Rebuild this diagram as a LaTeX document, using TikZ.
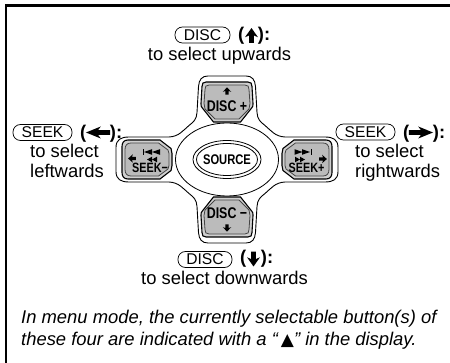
\documentclass[tikz,border=0pt]{standalone}
\usepackage{fontspec}
\setmainfont{Liberation Sans}
\newfontfamily\symfont{DejaVu Sans}
\newcommand{\bigarr}[5]{\fill[shift={(#1,#2)},rotate=#3,xscale=#4,yscale=#5] (-6.5,-1.9) -- (0,-1.9) -- (-1.5,-5) -- (6.5,0) -- (-1.5,5) -- (0,1.9) -- (-6.5,1.9) -- cycle;}
\newcommand{\tri}[3]{\fill (#1,#2) -- ++(#3,-2.8) -- ++(0,5.6) -- cycle;}
\newcommand{\vbtnpath}[1]{(-21+#1,-77.5+#1) .. controls (-24+#1,-77.5+#1) and (-25+#1,-76+#1) .. (-25+#1,-73+#1) -- (-26+#1,-56) .. controls (-26+#1,-54) and (-26+#1,-53) .. (-25+#1,-52+.5*#1) -- (-13.5+#1*.5,-37.5-#1) -- (13.5-#1*.5,-37.5-#1) -- (25-#1,-52+.5*#1) .. controls (26-#1,-53) and (26-#1,-54) .. (26-#1,-56) -- (25-#1,-73+#1) .. controls (25-#1,-76+#1) and (24-#1,-77.5+#1) .. (21-#1,-77.5+#1) -- cycle}
\newcommand{\hbtnpath}[1]{(-99+#1,-19.5+#1) .. controls (-103+#1,-19.5+#1) and (-105+#1,-17+#1) .. (-105+#1,-13+#1) -- (-105+#1,13-#1) .. controls (-105+#1,17-#1) and (-103+#1,19.5-#1) .. (-99+#1,19.5-#1) -- (-67-#1*.5,19.5-#1) -- (-56-#1,11-.5*#1) -- (-55-#1,6) -- (-55-#1,-6) -- (-56-#1,-11+.5*#1) -- (-67-#1*.5,-19.5+#1) -- cycle}
\newcommand{\vbtn}{\fill[btnlight,draw=black,line width=1.1pt] \vbtnpath{0}; \fill[btngray,draw=btndark,line width=.8pt] \vbtnpath{3};}
\newcommand{\hbtn}{\fill[btnlight,draw=black,line width=1.1pt] \hbtnpath{0}; \fill[btngray,draw=btndark,line width=.8pt] \hbtnpath{3};}
\definecolor{btnlight}{HTML}{CFCFCF}
\definecolor{btngray}{HTML}{BBBBBB}
\definecolor{btndark}{HTML}{444444}
\tikzset{
  x=1pt,y=-1pt,
  keybox/.style={draw,line width=.7pt,rounded corners=7.5pt,minimum height=16pt,inner sep=0pt,font=\fontsize{15.6}{17}\selectfont},
  lab/.style={anchor=base,inner sep=0pt,font=\fontsize{18.4}{19}\selectfont},
  lablft/.style={anchor=base west,inner sep=0pt,font=\fontsize{18.4}{19}\selectfont},
  blab/.style={anchor=base west,inner sep=0pt,font=\fontsize{18.4}{19}\selectfont\bfseries},
  note/.style={anchor=base west,inner sep=0pt,font=\fontsize{18.4}{19}\selectfont\itshape},
  btext/.style={anchor=base,inner sep=0pt,font=\fontsize{15.5}{16}\selectfont\bfseries},
  stext/.style={anchor=base,inner sep=0pt,font=\fontsize{13.5}{14}\selectfont\bfseries},
}
\begin{document}
\begin{tikzpicture}
\useasboundingbox (0,0) rectangle (450,363);
\fill[white] (0,0) rectangle (450,363);
% frame
\fill[black] (5,4) rectangle (450,7);
\fill[black] (5,4) rectangle (7,363);
% body outline
\begin{scope}[shift={(227,159.5)}]
\draw[line width=.9pt,fill=white] (-19,-83.5) .. controls (-25,-83.5) and (-28,-80) .. (-28.5,-73) -- (-30,-47) .. controls (-30.5,-40) and (-33,-38) .. (-38,-34) .. controls (-44,-29) and (-48,-23) .. (-58,-22.5) -- (-98,-22.5) .. controls (-106,-22.5) and (-111,-20) .. (-111,-12) -- (-111,12) .. controls (-111,20) and (-106,22.5) .. (-98,22.5) -- (-58,22.5) .. controls (-48,23) and (-44,29) .. (-38,34) .. controls (-33,38) and (-30.5,40) .. (-30,47) -- (-28.5,73) .. controls (-28,80) and (-25,83.5) .. (-19,83.5) -- (19,83.5) .. controls (25,83.5) and (28,80) .. (28.5,73) -- (30,47) .. controls (30.5,40) and (33,38) .. (38,34) .. controls (44,29) and (48,23) .. (58,22.5) -- (98,22.5) .. controls (106,22.5) and (111,20) .. (111,12) -- (111,-12) .. controls (111,-20) and (106,-22.5) .. (98,-22.5) -- (58,-22.5) .. controls (48,-23) and (44,-29) .. (38,-34) .. controls (33,-38) and (30.5,-40) .. (30,-47) -- (28.5,-73) .. controls (28,-80) and (25,-83.5) .. (19,-83.5) -- cycle;
\draw[line width=.8pt,fill=white] (0,0) ellipse [x radius=51.5,y radius=36.5];
\draw[line width=.8pt] (0,0) ellipse [x radius=34,y radius=19];
\draw[line width=.8pt] (0,0) ellipse [x radius=30.5,y radius=16];
\begin{scope}\vbtn\end{scope}
\begin{scope}[yscale=-1]\vbtn\end{scope}
\begin{scope}\hbtn\end{scope}
\begin{scope}[xscale=-1]\hbtn\end{scope}
\end{scope}
% centre and button texts
\node[anchor=base,inner sep=0pt,font=\fontsize{14}{15}\selectfont\bfseries] (src) at (227,165) {\scalebox{.8}[1]{SOURCE}};
\node[btext] (dp) at (227,112) {\scalebox{.8}[1]{DISC +}};
\node[btext] (dm) at (227,218.5) {\scalebox{.8}[1]{DISC −}};
\node[stext] (sm) at (150,172.5) {\scalebox{.8}[1]{SEEK−}};
\node[stext] (sp) at (306.5,172.5) {\scalebox{.8}[1]{SEEK+}};
% button glyphs
\bigarr{227}{91}{90}{.55}{.85}
\bigarr{227}{228}{-90}{.55}{.85}
\bigarr{132}{158.5}{180}{.6}{.85}
\bigarr{323}{159}{0}{.6}{.85}
% left transport glyphs
\fill (142.5,149) rectangle (143.7,155);
\tri{144}{152}{8}\tri{152}{152}{8}
\tri{147}{159.5}{5}\tri{152}{159.5}{5}
% right transport glyphs
\fill (310.8,149) rectangle (312,155);
\tri{310}{152}{-8}\tri{302.5}{152}{-8}
\tri{305}{159.5}{-5}\tri{300}{159.5}{-5}
% labels
\node[keybox,minimum width=55pt] (ku) at (202.5,35) {DISC};
\node[blab] (pu) at (238,41) {(\hspace{13.6pt}):};
\bigarr{251.5}{35.5}{90}{1.15}{1.3}
\node[lab] (tu) at (219.5,61) {to select upwards};
\node[keybox,minimum width=59pt] (kl) at (42.5,132.5) {SEEK};
\node[blab] (pl) at (80,138.5) {(\hspace{23.6pt}):};
\bigarr{98}{132.5}{180}{1.85}{1.2}
\node[lablft] (tl1) at (30,158) {to select};
\node[lablft] (tl2) at (30,178) {leftwards};
\node[keybox,minimum width=59pt] (kr) at (365.5,132) {SEEK};
\node[blab] (pr) at (403,138.5) {(\hspace{23.6pt}):};
\bigarr{421}{132.5}{0}{1.85}{1.2}
\node[lablft] (tr1) at (355,158) {to select};
\node[lablft] (tr2) at (355,177.5) {rightwards};
\node[keybox,minimum width=54pt] (kd) at (205,259.5) {DISC};
\node[blab] (pd) at (240,264) {(\hspace{14.6pt}):};
\bigarr{253.5}{259}{-90}{1.15}{1.3}
\node[lab] (td) at (224.5,285) {to select downwards};
\node[note] (n1) at (21,324) {In menu mode, the currently selectable button(s) of};
\node[note] (n2) at (21,346) {these four are indicated with a “\,{\upshape\symfont\fontsize{17}{18}\selectfont ▲}” in the display.};
\end{tikzpicture}
\end{document}
